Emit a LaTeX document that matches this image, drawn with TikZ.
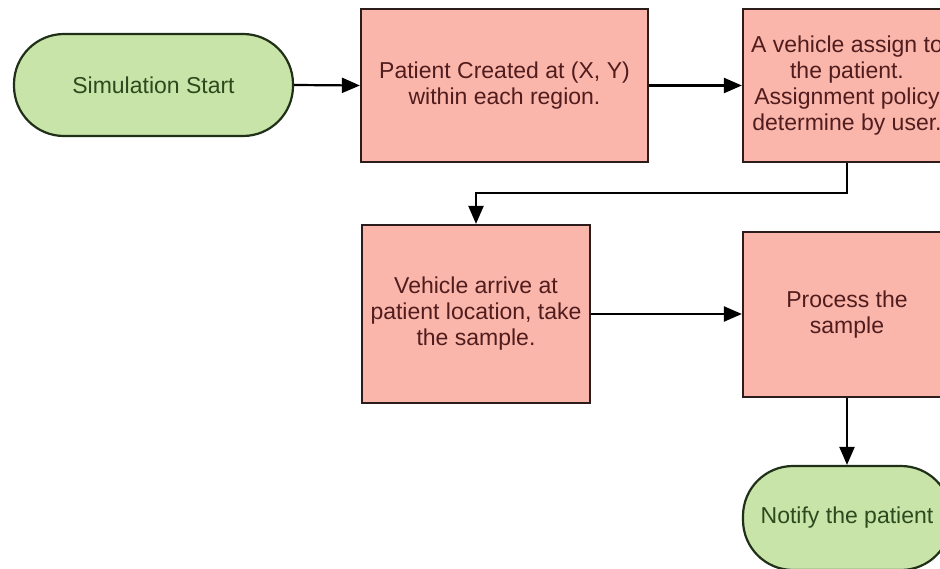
\documentclass[tikz,border=0pt]{standalone}
\usepackage{fontspec}
\setmainfont{Liberation Sans}
\usetikzlibrary{arrows.meta}

\definecolor{procfill}{RGB}{250,182,170}
\definecolor{procline}{RGB}{45,28,28}
\definecolor{proctext}{RGB}{80,28,30}
\definecolor{termfill}{RGB}{200,228,168}
\definecolor{termline}{RGB}{32,48,24}
\definecolor{termtext}{RGB}{44,74,30}

\tikzset{
  flowtext/.style={font=\fontsize{23}{26}\selectfont, align=center, inner sep=0pt},
  procbox/.style={flowtext, rectangle, draw=procline, fill=procfill, line width=2.2pt, text=proctext},
  termbox/.style={flowtext, rectangle, rounded corners=50pt, draw=termline, fill=termfill, line width=2.2pt, text=termtext},
  flowarrow/.style={line width=2.2pt, draw=black, -{Triangle[length=18pt,width=15pt]}}
}

\begin{document}
\begin{tikzpicture}[x=1pt,y=-1pt]
  \useasboundingbox (0,0) rectangle (940,569);
  \clip (0,0) rectangle (940,569);
  \fill[white] (0,0) rectangle (940,569);

  % nodes of the flow
  \node[termbox, minimum width=279pt, minimum height=102pt] (start) at (153.5,85) {Simulation Start};
  \node[procbox, minimum width=287pt, minimum height=153pt] (create) at (504.5,85.5)
    {Patient Created at (X, Y)\\within each region.};
  \node[procbox, minimum width=208pt, minimum height=153pt] (assign) at (847,85.5)
    {A vehicle assign to\\the patient.\\Assignment policy\\determine by user.};
  \node[procbox, minimum width=228pt, minimum height=178pt] (arrive) at (476,314)
    {Vehicle arrive at\\patient location, take\\the sample.};
  \node[procbox, minimum width=208pt, minimum height=165pt] (process) at (847,314.5)
    {Process the\\sample};
  \node[termbox, minimum width=208pt, minimum height=104pt] (notify) at (847,518)
    {Notify the patient};

  % connectors
  \coordinate (bendR) at (847,193);
  \coordinate (bendL) at (476,193);
  \draw[flowarrow] (start.east) -- (create.west);
  \draw[flowarrow] (create.east) -- (assign.west);
  \draw[flowarrow] (assign.south) -- (bendR) -- (bendL) -- (arrive.north);
  \draw[flowarrow] (arrive.east) -- (arrive.east -| process.west);
  \draw[flowarrow] (process.south) -- (notify.north);
\end{tikzpicture}
\end{document}
